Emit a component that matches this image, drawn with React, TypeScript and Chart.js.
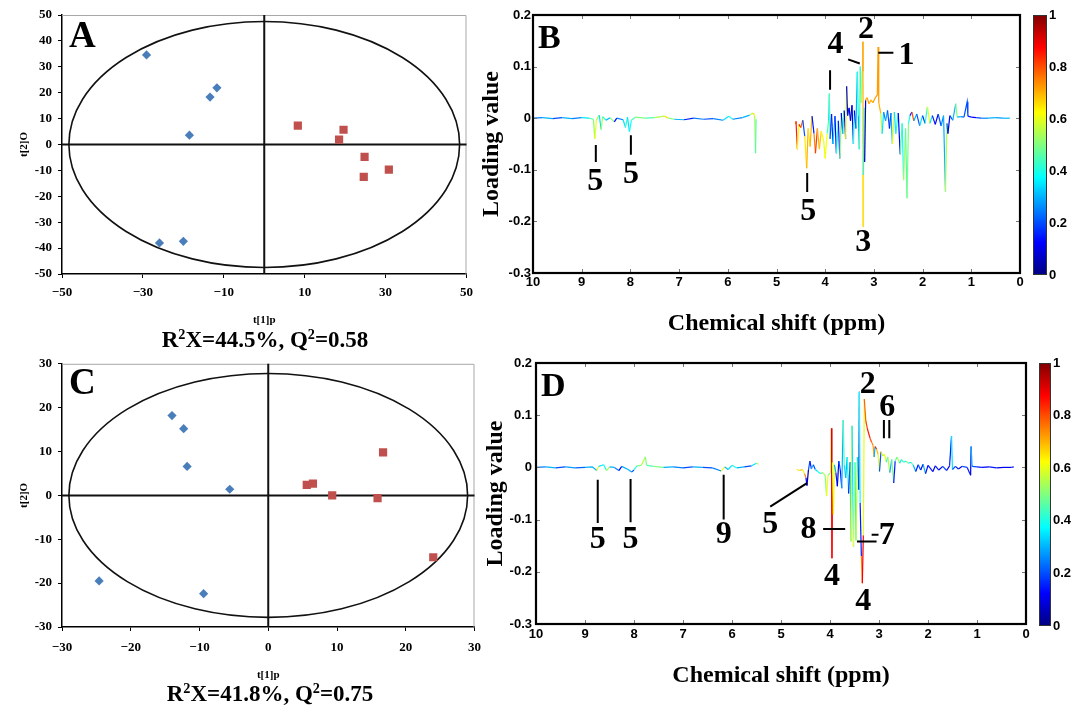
import React, { useEffect, useRef } from 'react';
import { Chart, registerables } from 'chart.js';
Chart.register(...registerables);

const SERIF = "'Liberation Serif', 'Times New Roman', serif";
const SANS = "'Liberation Sans', Arial, sans-serif";

// ---------- Panel A (OPLS-DA scores) ----------
const aBlueX = [-29.1, -13.4, -11.7, -18.5, -25.9, -20.0];
const aBlueY = [34.6, 18.3, 21.9, 3.6, -38.0, -37.4];
const aRedX = [8.3, 19.6, 18.5, 24.8, 24.6, 30.8];
const aRedY = [7.3, 5.7, 1.9, -4.8, -12.5, -9.7];
const aEllipse = [48.3, 47.5];
const aXTicks = [-50, -30, -10, 10, 30, 50];
const aYTicks = [50, 40, 30, 20, 10, 0, -10, -20, -30, -40, -50];
const aR2X = '44.5%';
const aQ2 = '0.58';

// ---------- Panel C (OPLS-DA scores) ----------
const cBlueX = [-14.0, -12.3, -11.8, -5.6, -24.6, -9.4];
const cBlueY = [18.2, 15.2, 6.6, 1.4, -19.5, -22.4];
const cRedX = [5.6, 6.5, 9.3, 16.7, 15.9, 24.0];
const cRedY = [2.4, 2.7, 0.0, 9.8, -0.6, -14.1];
const cEllipse = [29.0, 27.8];
const cXTicks = [-30, -20, -10, 0, 10, 20, 30];
const cYTicks = [30, 20, 10, 0, -10, -20, -30];
const cR2X = '41.8%';
const cQ2 = '0.75';

// ---------- Loading plots axes ----------
const nmrXTicks = [10, 9, 8, 7, 6, 5, 4, 3, 2, 1, 0];
const nmrYTicks = [0.2, 0.1, 0, -0.1, -0.2, -0.3];
const colorbarTicks = [1, 0.8, 0.6, 0.4, 0.2, 0];

// ---------- Panel B loading spectrum ----------
const bPpm = [
  10.0, 9.8, 9.6, 9.4, 9.2, 9.0, 8.85, 8.76, 8.73, 8.70, 8.64, 8.60, 8.57, 8.50, 8.42, 8.33, 8.28, 8.15, 8.10, 8.06,
  8.02, 7.98, 7.90, 7.70, 7.50, 7.30, 7.22, 7.10, 6.90, 6.70, 6.50, 6.30, 6.10, 5.98, 5.90, 5.70, 5.55, 5.48, 5.45, 5.43,
  5.42, 5.0,
  4.62, 4.60, 4.57, 4.54, 4.50, 4.46, 4.42, 4.38, 4.35, 4.31, 4.27, 4.23, 4.20, 4.16, 4.12, 4.08, 4.03, 4.00, 3.96, 3.93,
  3.915, 3.90, 3.87, 3.84, 3.80, 3.77, 3.73, 3.70, 3.67, 3.64, 3.61, 3.58, 3.56, 3.54, 3.51, 3.48, 3.45, 3.42, 3.40, 3.37,
  3.34, 3.32, 3.30, 3.28, 3.26, 3.24, 3.225, 3.22, 3.215, 3.20, 3.19, 3.17, 3.14, 3.10, 3.06, 3.02, 2.97, 2.93, 2.915, 2.90,
  2.86, 2.83, 2.80, 2.76, 2.72, 2.68, 2.65, 2.62, 2.58, 2.55, 2.50, 2.46, 2.42, 2.39, 2.35, 2.32, 2.29, 2.26, 2.22, 2.18,
  2.12, 2.06, 2.00, 1.95, 1.90, 1.85, 1.80, 1.74, 1.68, 1.62, 1.57, 1.53, 1.50, 1.48, 1.44, 1.38, 1.32, 1.29, 1.22, 1.15,
  1.085, 1.07, 1.00, 0.90, 0.80, 0.65, 0.50, 0.35, 0.21,
];
const bLoad = [
  0.000, 0.001, -0.001, 0.001, -0.001, 0.001, 0.000, -0.002, -0.040, -0.004, 0.006, -0.022, 0.003, -0.004, 0.001, -0.007, 0.000, -0.003, -0.018, 0.002,
  -0.026, -0.004, 0.002, 0.000, 0.001, 0.004, 0.000, -0.002, -0.003, 0.000, -0.002, -0.001, -0.004, 0.004, -0.002, 0.001, 0.006, 0.010, 0.005, -0.068,
  -0.002, null,
  -0.010, -0.006, -0.060, -0.012, -0.018, -0.004, -0.035, -0.097, -0.020, -0.055, 0.004, -0.030, -0.068, -0.020, -0.060, -0.025, -0.045, -0.078, -0.030, -0.005,
  0.048, -0.040, 0.008, -0.050, 0.004, -0.068, -0.005, -0.078, 0.010, -0.030, 0.015, -0.040, 0.062, 0.005, 0.020, -0.005, 0.025, -0.050, 0.015, -0.020,
  0.090, 0.005, -0.060, 0.100, 0.030, 0.092, 0.148, -0.210, -0.110, 0.020, -0.085, 0.035, 0.040, 0.028, 0.035, 0.030, 0.040, 0.045, 0.138, 0.030,
  0.010, -0.030, 0.012, -0.005, 0.015, -0.020, 0.010, -0.050, 0.012, -0.030, 0.010, -0.070, -0.010, -0.120, -0.020, -0.155, -0.010, 0.005, 0.012, -0.005,
  0.008, -0.015, 0.005, -0.010, 0.022, -0.010, 0.005, -0.012, 0.008, -0.015, 0.005, -0.142, -0.010, -0.030, 0.005, -0.004, 0.028, 0.002, 0.003, 0.002,
  0.032, 0.004, 0.002, 0.001, 0.000, 0.000, 0.001, 0.000, 0.000,
];
const bCorr = [
  0.25, 0.30, 0.20, 0.30, 0.25, 0.35, 0.45, 0.50, 0.62, 0.55, 0.35, 0.55, 0.40, 0.30, 0.50, 0.12, 0.25, 0.35, 0.42, 0.35,
  0.38, 0.45, 0.50, 0.45, 0.55, 0.65, 0.50, 0.30, 0.15, 0.25, 0.20, 0.25, 0.35, 0.40, 0.25, 0.30, 0.55, 0.65, 0.55, 0.45,
  0.40, 0.00,
  0.75, 0.85, 0.62, 0.85, 0.78, 0.20, 0.65, 0.70, 0.65, 0.70, 0.15, 0.75, 0.82, 0.70, 0.68, 0.62, 0.60, 0.62, 0.45, 0.35,
  0.45, 0.20, 0.15, 0.35, 0.12, 0.40, 0.15, 0.50, 0.12, 0.40, 0.10, 0.60, 0.08, 0.15, 0.10, 0.05, 0.12, 0.40, 0.10, 0.30,
  0.40, 0.30, 0.45, 0.42, 0.55, 0.75, 0.70, 0.65, 0.40, 0.50, 0.08, 0.70, 0.72, 0.70, 0.70, 0.72, 0.72, 0.72, 0.72, 0.70,
  0.55, 0.35, 0.25, 0.30, 0.20, 0.15, 0.30, 0.60, 0.35, 0.40, 0.12, 0.45, 0.40, 0.55, 0.45, 0.50, 0.40, 0.15, 0.80, 0.30,
  0.20, 0.35, 0.15, 0.40, 0.60, 0.35, 0.15, 0.10, 0.20, 0.25, 0.30, 0.55, 0.20, 0.10, 0.20, 0.30, 0.50, 0.30, 0.25, 0.20,
  0.20, 0.15, 0.12, 0.20, 0.25, 0.30, 0.28, 0.30, 0.30,
];
const bNoteText = ['5', '5', '5', '4', '2', '1', '3'];
const bNoteX = [8.72, 7.99, 4.35, 3.79, 3.16, 2.33, 3.22];
const bNoteY = [-0.123, -0.110, -0.182, 0.142, 0.171, 0.122, -0.242];
const bLeaders = [
  [8.71, -0.052, 8.71, -0.085],
  [7.99, -0.033, 7.99, -0.071],
  [4.37, -0.106, 4.37, -0.143],
  [3.90, 0.093, 3.90, 0.055],
  [3.53, 0.114, 3.29, 0.106],
  [2.91, 0.127, 2.60, 0.127],
];

// ---------- Panel D loading spectrum ----------
const dPpm = [
  10.0, 9.8, 9.6, 9.4, 9.2, 9.0, 8.85, 8.76, 8.72, 8.62, 8.56, 8.50, 8.40, 8.31, 8.25, 8.12, 8.05, 8.00, 7.94, 7.85,
  7.77, 7.74, 7.60, 7.40, 7.20, 7.00, 6.80, 6.60, 6.40, 6.22, 6.15, 6.08, 6.00, 5.90, 5.75, 5.60, 5.50, 5.46, 5.0,
  4.68, 4.62, 4.56, 4.52, 4.49, 4.47, 4.44, 4.41, 4.38, 4.34, 4.30, 4.25, 4.20, 4.15, 4.10, 4.07, 4.04, 3.99, 3.97, 3.96,
  3.95, 3.93, 3.91, 3.88, 3.85, 3.82, 3.79, 3.76, 3.73, 3.71, 3.68, 3.65, 3.62, 3.59, 3.57, 3.55, 3.52, 3.49, 3.47, 3.44,
  3.41, 3.40, 3.385, 3.36, 3.34, 3.32, 3.30, 3.27, 3.24, 3.21, 3.18, 3.15, 3.12, 3.10, 3.08, 3.05, 3.02, 2.99, 2.96, 2.92,
  2.89, 2.85, 2.82, 2.78, 2.74, 2.70, 2.67, 2.63, 2.58, 2.54, 2.50, 2.45, 2.40, 2.35, 2.30, 2.25, 2.20, 2.15, 2.10, 2.05,
  2.00, 1.90, 1.85, 1.78, 1.70, 1.62, 1.56, 1.52, 1.50, 1.44, 1.38, 1.30, 1.20, 1.13, 1.12, 1.10, 1.00, 0.90, 0.75, 0.60,
  0.45, 0.30, 0.25,
];
const dLoad = [
  0.000, 0.001, -0.001, 0.001, -0.001, 0.000, 0.001, -0.006, 0.002, 0.005, -0.006, 0.001, 0.000, -0.006, 0.002, -0.004, -0.009, -0.005, 0.003, 0.004,
  0.020, 0.004, 0.002, 0.000, 0.001, -0.001, 0.001, 0.000, -0.001, -0.007, 0.001, -0.004, 0.004, -0.001, 0.001, 0.003, 0.008, 0.006, null,
  -0.004, -0.006, -0.004, -0.012, -0.020, -0.035, -0.005, 0.012, -0.003, 0.005, -0.004, -0.008, -0.012, -0.010, -0.015, -0.055, -0.015, -0.010, 0.075, -0.174,
  0.010, -0.090, 0.005, -0.010, -0.036, 0.012, -0.005, -0.040, 0.091, 0.005, -0.020, 0.020, -0.050, 0.010, -0.142, 0.080, -0.152, 0.010, -0.140, 0.020,
  -0.043, 0.145, -0.068, -0.170, -0.222, -0.130, 0.131, 0.090, 0.075, 0.065, 0.055, 0.048, 0.042, 0.020, 0.040, 0.035, 0.025, -0.008, 0.030, 0.022,
  0.025, 0.010, 0.020, -0.010, 0.015, -0.030, 0.012, 0.020, 0.008, 0.015, 0.010, 0.012, 0.008, 0.010, 0.004, -0.008, 0.005, -0.005, 0.006, -0.012,
  0.004, -0.008, 0.003, -0.005, 0.002, -0.006, 0.003, 0.060, -0.004, 0.002, -0.003, 0.002, 0.000, -0.015, 0.040, 0.002, 0.001, 0.000, 0.001, -0.001,
  0.000, 0.000, 0.001,
];
const dCorr = [
  0.25, 0.30, 0.20, 0.28, 0.22, 0.30, 0.30, 0.60, 0.35, 0.40, 0.55, 0.30, 0.25, 0.12, 0.30, 0.30, 0.20, 0.40, 0.50, 0.55,
  0.50, 0.45, 0.50, 0.30, 0.25, 0.20, 0.30, 0.20, 0.25, 0.60, 0.30, 0.35, 0.40, 0.30, 0.20, 0.35, 0.55, 0.60, 0.00,
  0.65, 0.70, 0.60, 0.75, 0.10, 0.05, 0.20, 0.15, 0.30, 0.20, 0.35, 0.40, 0.45, 0.55, 0.50, 0.62, 0.50, 0.55, 0.90, 0.88,
  0.60, 0.62, 0.30, 0.15, 0.10, 0.20, 0.15, 0.30, 0.45, 0.35, 0.30, 0.40, 0.15, 0.35, 0.60, 0.35, 0.62, 0.40, 0.55, 0.35,
  0.08, 0.38, 0.15, 0.75, 0.88, 0.60, 0.78, 0.82, 0.85, 0.85, 0.80, 0.75, 0.72, 0.30, 0.85, 0.70, 0.60, 0.20, 0.65, 0.55,
  0.60, 0.40, 0.55, 0.30, 0.50, 0.15, 0.45, 0.55, 0.35, 0.45, 0.40, 0.50, 0.35, 0.45, 0.30, 0.15, 0.20, 0.10, 0.30, 0.12,
  0.15, 0.10, 0.15, 0.10, 0.20, 0.12, 0.15, 0.35, 0.20, 0.15, 0.10, 0.20, 0.15, 0.10, 0.30, 0.20, 0.15, 0.12, 0.15, 0.10,
  0.12, 0.15, 0.18,
];
const dNoteText = ['5', '5', '9', '5', '8', '4', '2', '6', '7', '4'];
const dNoteX = [8.74, 8.07, 6.17, 5.22, 4.44, 3.96, 3.23, 2.83, 2.84, 3.32];
const dNoteY = [-0.138, -0.138, -0.129, -0.110, -0.119, -0.209, 0.158, 0.114, -0.131, -0.257];
const dLeaders = [
  [8.74, -0.0235, 8.74, -0.1065],
  [8.07, -0.022, 8.07, -0.105],
  [6.17, -0.014, 6.17, -0.100],
  [5.22, -0.075, 4.47, -0.030],
  [4.14, -0.118, 3.69, -0.118],
  [3.45, -0.142, 3.05, -0.142],
  [3.15, -0.129, 3.01, -0.129],
  [2.90, 0.091, 2.90, 0.056],
  [2.79, 0.091, 2.79, 0.056],
];

// jet colormap (style helper)
function jet(t: number): string {
  const c = (v: number) => Math.round(255 * Math.max(0, Math.min(1, v)));
  return `rgb(${c(1.5 - Math.abs(4 * t - 3))},${c(1.5 - Math.abs(4 * t - 2))},${c(1.5 - Math.abs(4 * t - 1))})`;
}

const minusFmt = (v: number) => (v < 0 ? '\u2212' + Math.abs(v) : String(v));

function scatterConfig(p: any) {
  const decor = {
    id: 'scatterDecor',
    beforeDatasetsDraw(chart: any) {
      const { ctx, chartArea: a, scales } = chart;
      const x = scales.x, y = scales.y;
      ctx.save();
      ctx.strokeStyle = '#a8a8a8';
      ctx.lineWidth = 1;
      ctx.beginPath();
      ctx.moveTo(a.left, a.top + 0.5);
      ctx.lineTo(a.right - 0.5, a.top + 0.5);
      ctx.lineTo(a.right - 0.5, a.bottom);
      ctx.stroke();
      const cx = x.getPixelForValue(0);
      const cy = y.getPixelForValue(0);
      const rx = x.getPixelForValue(p.ellipse[0]) - cx;
      const ry = cy - y.getPixelForValue(p.ellipse[1]);
      ctx.strokeStyle = '#111';
      ctx.lineWidth = 1.6;
      ctx.beginPath();
      ctx.ellipse(cx, cy, rx, ry, 0, 0, Math.PI * 2);
      ctx.stroke();
      ctx.lineWidth = 2;
      ctx.beginPath();
      ctx.moveTo(cx, a.top);
      ctx.lineTo(cx, a.bottom);
      ctx.moveTo(a.left, cy);
      ctx.lineTo(a.right, cy);
      ctx.stroke();
      ctx.fillStyle = '#000';
      ctx.font = `bold 37px ${SERIF}`;
      ctx.textAlign = 'left';
      ctx.textBaseline = 'alphabetic';
      ctx.fillText(p.letter, a.left + 7, a.top + p.letterDy);
      ctx.restore();
    },
  };
  return {
    type: 'scatter',
    data: {
      datasets: [
        {
          data: p.blueX.map((v: number, i: number) => ({ x: v, y: p.blueY[i] })),
          pointStyle: 'rectRot', pointRadius: 4.6, backgroundColor: '#4a7ebb', borderColor: '#4a7ebb', borderWidth: 0,
        },
        {
          data: p.redX.map((v: number, i: number) => ({ x: v, y: p.redY[i] })),
          pointStyle: 'rect', pointRadius: 5.8, backgroundColor: '#c0504d', borderColor: '#c0504d', borderWidth: 0,
        },
      ],
    },
    options: {
      animation: false, responsive: false, devicePixelRatio: 1, events: [],
      layout: { padding: p.padding },
      plugins: { legend: { display: false }, tooltip: { enabled: false } },
      scales: {
        x: {
          type: 'linear', min: p.xTicks[0], max: p.xTicks[p.xTicks.length - 1],
          afterBuildTicks: (s: any) => { s.ticks = p.xTicks.map((v: number) => ({ value: v })); },
          afterFit: (s: any) => { s.height = p.xAxisH; },
          grid: { display: true, drawOnChartArea: false, drawTicks: true, tickLength: 4, color: '#000' },
          border: { display: true, color: '#000', width: 1.5 },
          ticks: { font: { family: SERIF, weight: 'bold', size: 13 }, color: '#000', padding: p.xTickPad, maxRotation: 0, autoSkip: false, callback: (v: any) => minusFmt(Number(v)) },
          title: { display: true, text: 't[1]p', font: { family: SERIF, weight: 'bold', size: 11 }, color: '#000', padding: { top: 0, bottom: p.xTitlePad } },
        },
        y: {
          type: 'linear', min: p.yTicks[p.yTicks.length - 1], max: p.yTicks[0],
          afterBuildTicks: (s: any) => { s.ticks = p.yTicks.map((v: number) => ({ value: v })); },
          afterFit: (s: any) => { s.width = p.yAxisW; },
          grid: { display: true, drawOnChartArea: false, drawTicks: true, tickLength: 4, color: '#000' },
          border: { display: true, color: '#000', width: 1.5 },
          ticks: { font: { family: SERIF, weight: 'bold', size: 13 }, color: '#000', padding: 6, autoSkip: false, callback: (v: any) => String(v) },
          title: { display: true, text: 't[2]O', font: { family: SERIF, weight: 'bold', size: 11 }, color: '#000', padding: { top: 18, bottom: 0 } },
        },
      },
    },
    plugins: [decor],
  };
}

function spectrumConfig(p: any) {
  const decor = {
    id: 'spectrumDecor',
    afterDatasetsDraw(chart: any) {
      const { ctx, chartArea: a, scales } = chart;
      const x = scales.x, y = scales.y;
      ctx.save();
      ctx.strokeStyle = '#777';
      ctx.lineWidth = 1;
      ctx.beginPath();
      for (const v of nmrXTicks) {
        const px = Math.round(x.getPixelForValue(v)) + 0.5;
        ctx.moveTo(px, a.bottom); ctx.lineTo(px, a.bottom - 4);
        ctx.moveTo(px, a.top); ctx.lineTo(px, a.top + 4);
      }
      for (const v of nmrYTicks) {
        const py = Math.round(y.getPixelForValue(v)) + 0.5;
        ctx.moveTo(a.left, py); ctx.lineTo(a.left + 4, py);
        ctx.moveTo(a.right, py); ctx.lineTo(a.right - 4, py);
      }
      ctx.stroke();
      ctx.strokeStyle = '#000';
      ctx.lineWidth = 2.2;
      ctx.strokeRect(a.left, a.top, a.right - a.left, a.bottom - a.top);
      // leader lines
      ctx.lineWidth = 2;
      ctx.beginPath();
      for (const [x1, y1, x2, y2] of p.leaders) {
        ctx.moveTo(x.getPixelForValue(x1), y.getPixelForValue(y1));
        ctx.lineTo(x.getPixelForValue(x2), y.getPixelForValue(y2));
      }
      ctx.stroke();
      // peak numbers
      ctx.fillStyle = '#000';
      ctx.font = `bold 32px ${SERIF}`;
      ctx.textAlign = 'center';
      ctx.textBaseline = 'middle';
      p.noteText.forEach((t: string, i: number) => {
        ctx.fillText(t, x.getPixelForValue(p.noteX[i]), y.getPixelForValue(p.noteY[i]));
      });
      // panel letter
      ctx.font = `bold 34px ${SERIF}`;
      ctx.textAlign = 'left';
      ctx.textBaseline = 'alphabetic';
      ctx.fillText(p.letter, a.left + 5, a.top + 33);
      // colour bar
      const bx = a.right + 13;
      const bt = a.top;
      const bb = a.bottom + 2;
      const g = ctx.createLinearGradient(0, bb, 0, bt);
      for (let i = 0; i <= 32; i++) g.addColorStop(i / 32, jet(i / 32));
      ctx.fillStyle = g;
      ctx.fillRect(bx, bt, p.cbW, bb - bt);
      ctx.strokeStyle = '#333';
      ctx.lineWidth = 1;
      ctx.strokeRect(bx + 0.5, bt + 0.5, p.cbW - 1, bb - bt - 1);
      ctx.fillStyle = '#000';
      ctx.font = `bold 13px ${SANS}`;
      ctx.textAlign = 'left';
      ctx.textBaseline = 'middle';
      for (const v of colorbarTicks) {
        ctx.fillText(String(v), bx + p.cbW + 2, bb - v * (bb - bt));
      }
      ctx.restore();
    },
  };
  return {
    type: 'line',
    data: {
      datasets: [
        {
          data: p.ppm.map((v: number, i: number) => ({ x: v, y: p.load[i] })),
          borderWidth: 1.2, pointRadius: 0, tension: 0, spanGaps: false, fill: false,
          borderColor: jet(0.3),
          segment: { borderColor: (c: any) => jet(p.corr[c.p0DataIndex]) },
        },
      ],
    },
    options: {
      animation: false, responsive: false, devicePixelRatio: 1, events: [],
      layout: { padding: p.padding },
      plugins: { legend: { display: false }, tooltip: { enabled: false } },
      scales: {
        x: {
          type: 'linear', reverse: true, min: 0, max: 10,
          afterBuildTicks: (s: any) => { s.ticks = nmrXTicks.map((v) => ({ value: v })); },
          afterFit: (s: any) => { s.height = p.xAxisH; },
          grid: { display: false, drawTicks: false },
          border: { display: false },
          ticks: { font: { family: SANS, weight: 'bold', size: 13 }, color: '#000', padding: p.xTickPad, maxRotation: 0, autoSkip: false, callback: (v: any) => String(v) },
          title: { display: true, text: 'Chemical shift (ppm)', font: { family: SERIF, weight: 'bold', size: 24 }, color: '#000', padding: { top: 0, bottom: p.xTitlePad } },
        },
        y: {
          type: 'linear', min: -0.3, max: 0.2,
          afterBuildTicks: (s: any) => { s.ticks = nmrYTicks.map((v) => ({ value: v })); },
          afterFit: (s: any) => { s.width = p.yAxisW; },
          grid: { display: false, drawTicks: false },
          border: { display: false },
          ticks: { font: { family: SANS, weight: 'bold', size: 13 }, color: '#000', padding: p.yTickPad, autoSkip: false, callback: (v: any) => (Number(v) === 0 ? '0' : Number(v).toFixed(1)) },
          title: { display: true, text: 'Loading value', font: { family: SERIF, weight: 'bold', size: 24 }, color: '#000', padding: { top: p.yTitlePad, bottom: 0 } },
        },
      },
    },
    plugins: [decor],
  };
}

const subStyle: React.CSSProperties = {
  position: 'absolute', transform: 'translate(-50%, -50%)', font: `bold 23px ${SERIF}`,
  whiteSpace: 'nowrap', lineHeight: 1, color: '#000',
};
const supStyle: React.CSSProperties = { fontSize: '0.62em', verticalAlign: '0.55em', lineHeight: 0 };

export default function App() {
  const refA = useRef<HTMLCanvasElement>(null);
  const refB = useRef<HTMLCanvasElement>(null);
  const refC = useRef<HTMLCanvasElement>(null);
  const refD = useRef<HTMLCanvasElement>(null);

  useEffect(() => {
    const charts: Chart[] = [];
    charts.push(new Chart(refA.current as HTMLCanvasElement, scatterConfig({
      blueX: aBlueX, blueY: aBlueY, redX: aRedX, redY: aRedY, ellipse: aEllipse,
      xTicks: aXTicks, yTicks: aYTicks, letter: 'A', letterDy: 32,
      padding: { top: 15, right: 12, left: 0, bottom: 0 }, yAxisW: 62, xAxisH: 76, xTickPad: 7, xTitlePad: 23,
    }) as any));
    charts.push(new Chart(refC.current as HTMLCanvasElement, scatterConfig({
      blueX: cBlueX, blueY: cBlueY, redX: cRedX, redY: cRedY, ellipse: cEllipse,
      xTicks: cXTicks, yTicks: cYTicks, letter: 'C', letterDy: 30,
      padding: { top: 13, right: 15, left: 0, bottom: 0 }, yAxisW: 62, xAxisH: 81, xTickPad: 9, xTitlePad: 26,
    }) as any));
    charts.push(new Chart(refB.current as HTMLCanvasElement, spectrumConfig({
      ppm: bPpm, load: bLoad, corr: bCorr, noteText: bNoteText, noteX: bNoteX, noteY: bNoteY, leaders: bLeaders,
      letter: 'B', padding: { top: 15, right: 52, left: 0, bottom: 0 }, yAxisW: 63, xAxisH: 77,
      xTickPad: 2, yTickPad: 2, xTitlePad: 12, yTitlePad: 7, cbW: 14,
    }) as any));
    charts.push(new Chart(refD.current as HTMLCanvasElement, spectrumConfig({
      ppm: dPpm, load: dLoad, corr: dCorr, noteText: dNoteText, noteX: dNoteX, noteY: dNoteY, leaders: dLeaders,
      letter: 'D', padding: { top: 13, right: 46, left: 0, bottom: 0 }, yAxisW: 66, xAxisH: 84,
      xTickPad: 3, yTickPad: 4, xTitlePad: 18, yTitlePad: 11, cbW: 12,
    }) as any));
    return () => charts.forEach((c) => c.destroy());
  }, []);

  return (
    <div style={{ position: 'absolute', left: 0, top: 0, width: 1072, height: 708, background: '#fff', overflow: 'hidden' }}>
      <canvas ref={refA} width={480} height={350} style={{ position: 'absolute', left: 0, top: 0 }} />
      <canvas ref={refC} width={490} height={358} style={{ position: 'absolute', left: 0, top: 350 }} />
      <canvas ref={refB} width={602} height={350} style={{ position: 'absolute', left: 470, top: 0 }} />
      <canvas ref={refD} width={602} height={358} style={{ position: 'absolute', left: 470, top: 350 }} />
      <div style={{ ...subStyle, left: 265, top: 339 }}>
        R<sup style={supStyle}>2</sup>X={aR2X}, Q<sup style={supStyle}>2</sup>={aQ2}
      </div>
      <div style={{ ...subStyle, left: 270, top: 693 }}>
        R<sup style={supStyle}>2</sup>X={cR2X}, Q<sup style={supStyle}>2</sup>={cQ2}
      </div>
    </div>
  );
}
